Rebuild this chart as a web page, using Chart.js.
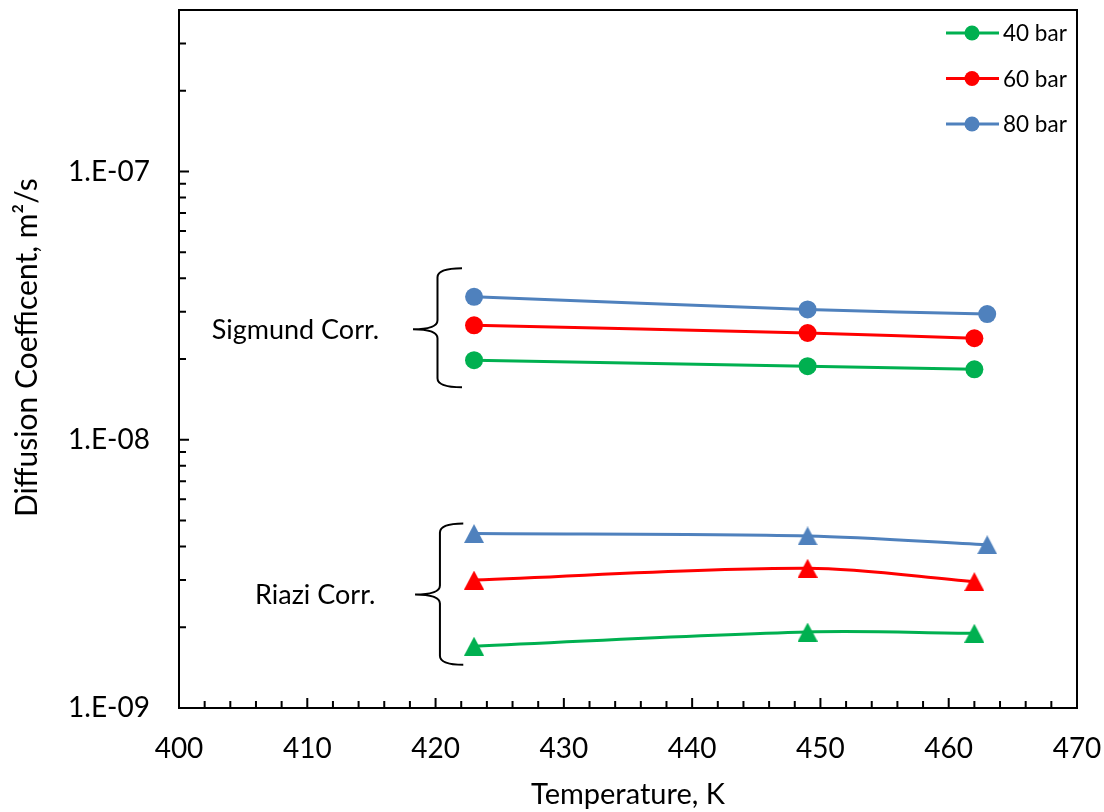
<!DOCTYPE html>
<html>
<head>
<meta charset="utf-8">
<script src="https://cdn.jsdelivr.net/npm/chart.js@4.4.1/dist/chart.umd.min.js"></script>
<style>
html,body{margin:0;padding:0;background:#fff}
</style>
</head>
<body>
<canvas id="grafica" width="1104" height="812"></canvas>
<script>

// temperaturas (K)
const temp40 = [423,449,462]
const temp60 = [423,449,462]
const temp80 = [423,449,463]

// coeficiente de difusion (m2/s)
const sigmund40 = [1.98e-8,1.88e-8,1.83e-8]
const sigmund60 = [2.67e-8,2.50e-8,2.39e-8]
const sigmund80 = [3.41e-8,3.06e-8,2.94e-8]

const riazi40 = [1.70e-9,1.92e-9,1.90e-9]
const riazi60 = [3.00e-9,3.32e-9,2.96e-9]
const riazi80 = [4.47e-9,4.38e-9,4.06e-9]

const nombres = ["40 bar","60 bar","80 bar"]
const colores = ["#00B050","#FF0000","#4F81BD"]

const xMin = 400
const xMax = 470
const yDecadas = [1e-9,1e-8,1e-7]
const yEtiquetas = ["1.E-09","1.E-08","1.E-07"]
const yMax = 4e-7

const fuente = "Lato"

function puntos(xs,ys){
return xs.map((x,i)=>({x:x,y:ys[i]}))
}

function triangulo(color){
const c = document.createElement("canvas")
c.width = 20
c.height = 19
const g = c.getContext("2d")
g.fillStyle = color
g.beginPath()
g.moveTo(10,0)
g.lineTo(20,19)
g.lineTo(0,19)
g.closePath()
g.fill()
return c
}

function serie(nombre,xs,ys,color,forma){
return {
label:nombre,
data:puntos(xs,ys),
showLine:true,
borderColor:color,
backgroundColor:color,
borderWidth:3,
tension:0.33,
pointStyle:forma==="tri" ? triangulo(color) : "circle",
pointRadius:9,
pointBorderWidth:0,
pointBackgroundColor:color
}
}

const datasets = [
serie(nombres[0],temp40,sigmund40,colores[0],"circ"),
serie(nombres[1],temp60,sigmund60,colores[1],"circ"),
serie(nombres[2],temp80,sigmund80,colores[2],"circ"),
serie(nombres[0]+" Riazi",temp40,riazi40,colores[0],"tri"),
serie(nombres[1]+" Riazi",temp60,riazi60,colores[1],"tri"),
serie(nombres[2]+" Riazi",temp80,riazi80,colores[2],"tri")
]

function esDecada(v){
return yDecadas.findIndex(d=>Math.abs(v/d-1)<1e-6)
}

function sinRelleno(s){
s.paddingTop = 0
s.paddingBottom = 0
s.paddingLeft = 0
s.paddingRight = 0
}

// marco y marcas hacia adentro
const marco = {
id:"marco",
beforeDatasetsDraw(chart){
const {ctx,chartArea:a,scales:{x,y}} = chart
ctx.save()
ctx.strokeStyle = "#000"
ctx.lineWidth = 2
ctx.strokeRect(a.left,a.top,a.right-a.left,a.bottom-a.top)
ctx.beginPath()
x.ticks.forEach(t=>{
const px = x.getPixelForValue(t.value)
const largo = t.value%10===0 ? 10 : 7
ctx.moveTo(px,a.bottom)
ctx.lineTo(px,a.bottom-largo)
})
y.ticks.forEach(t=>{
const py = y.getPixelForValue(t.value)
const largo = esDecada(t.value)>=0 ? 10 : 7
ctx.moveTo(a.left,py)
ctx.lineTo(a.left+largo,py)
})
ctx.stroke()
ctx.restore()
}
}

// llaves con el nombre de cada correlacion
const llaves = [
{texto:"Sigmund Corr.",xBrazo:422.06,xLinea:420.15,xPunta:418.24,xTexto:415.6,yArriba:4.36e-8,yMedio:2.58e-8,yAbajo:1.57e-8},
{texto:"Riazi Corr.",xBrazo:422.16,xLinea:420.34,xPunta:418.4,xTexto:415.3,yArriba:4.87e-9,yMedio:2.65e-9,yAbajo:1.45e-9}
]

const anotaciones = {
id:"anotaciones",
afterDraw(chart){
const {ctx,chartArea:a,scales:{x,y}} = chart
ctx.save()
ctx.strokeStyle = "#000"
ctx.lineWidth = 2
llaves.forEach(l=>{
const xb = x.getPixelForValue(l.xBrazo)
const xl = x.getPixelForValue(l.xLinea)
const xp = x.getPixelForValue(l.xPunta)
const ya = y.getPixelForValue(l.yArriba)
const ym = y.getPixelForValue(l.yMedio)
const yb = y.getPixelForValue(l.yAbajo)
const r = 9
ctx.beginPath()
ctx.moveTo(xb,ya)
ctx.quadraticCurveTo(xl,ya,xl,ya+r)
ctx.lineTo(xl,ym-r)
ctx.quadraticCurveTo(xl,ym,xp,ym)
ctx.quadraticCurveTo(xl,ym,xl,ym+r)
ctx.lineTo(xl,yb-r)
ctx.quadraticCurveTo(xl,yb,xb,yb)
ctx.stroke()
ctx.fillStyle = "#000"
ctx.font = "27px "+fuente
ctx.textAlign = "right"
ctx.textBaseline = "middle"
ctx.fillText(l.texto,x.getPixelForValue(l.xTexto),ym+1)
})

// leyenda
const x0 = a.right-131
ctx.font = "22.5px "+fuente
ctx.textAlign = "left"
ctx.textBaseline = "middle"
for(let i=0;i<3;i++){
const yy = a.top+23+i*45.5
ctx.strokeStyle = colores[i]
ctx.lineWidth = 3
ctx.beginPath()
ctx.moveTo(x0,yy)
ctx.lineTo(x0+53,yy)
ctx.stroke()
ctx.fillStyle = colores[i]
ctx.beginPath()
ctx.arc(x0+26,yy,7.5,0,Math.PI*2)
ctx.fill()
ctx.fillStyle = "#000"
ctx.fillText(nombres[i],x0+57,yy+1)
}
ctx.restore()
}
}

new Chart(document.getElementById("grafica"),{

type:"scatter",

data:{datasets:datasets},

options:{
responsive:false,
animation:false,
devicePixelRatio:1,
layout:{padding:{left:0,top:10,right:27,bottom:0}},
plugins:{legend:{display:false},tooltip:{enabled:false}},
scales:{
x:{
type:"linear",
min:xMin,
max:xMax,
afterBuildTicks:s=>{
const t = []
for(let v=xMin;v<=xMax;v+=2) t.push({value:v})
s.ticks = t
},
afterFit:s=>{
s.height = 104
sinRelleno(s)
},
grid:{display:false,drawTicks:false},
border:{display:false},
ticks:{
autoSkip:false,
maxRotation:0,
padding:24,
color:"#000",
font:{family:fuente,size:28},
callback:v=> v%10===0 ? String(v) : ""
},
title:{
display:true,
text:"Temperature, K",
color:"#000",
font:{family:fuente,size:29},
padding:{top:0,bottom:0}
}
},
y:{
type:"logarithmic",
min:yDecadas[0],
max:yMax,
afterBuildTicks:s=>{
const t = []
yDecadas.forEach(d=>{
for(let m=1;m<=9;m++){
const v = m*d
if(v<=yMax*1.0001) t.push({value:v})
}
})
s.ticks = t
},
afterFit:s=>{
s.width = 179
sinRelleno(s)
},
grid:{display:false,drawTicks:false},
border:{display:false},
ticks:{
autoSkip:false,
padding:29,
color:"#000",
font:{family:fuente,size:28},
callback:v=>{
const i = esDecada(v)
return i>=0 ? yEtiquetas[i] : ""
}
},
title:{
display:true,
text:"\u2002 Diffusion Coefficent, m²/s",
color:"#000",
font:{family:fuente,size:30},
padding:{top:9,bottom:0}
}
}
}
},

plugins:[marco,anotaciones]

})

</script>
</body>
</html>
